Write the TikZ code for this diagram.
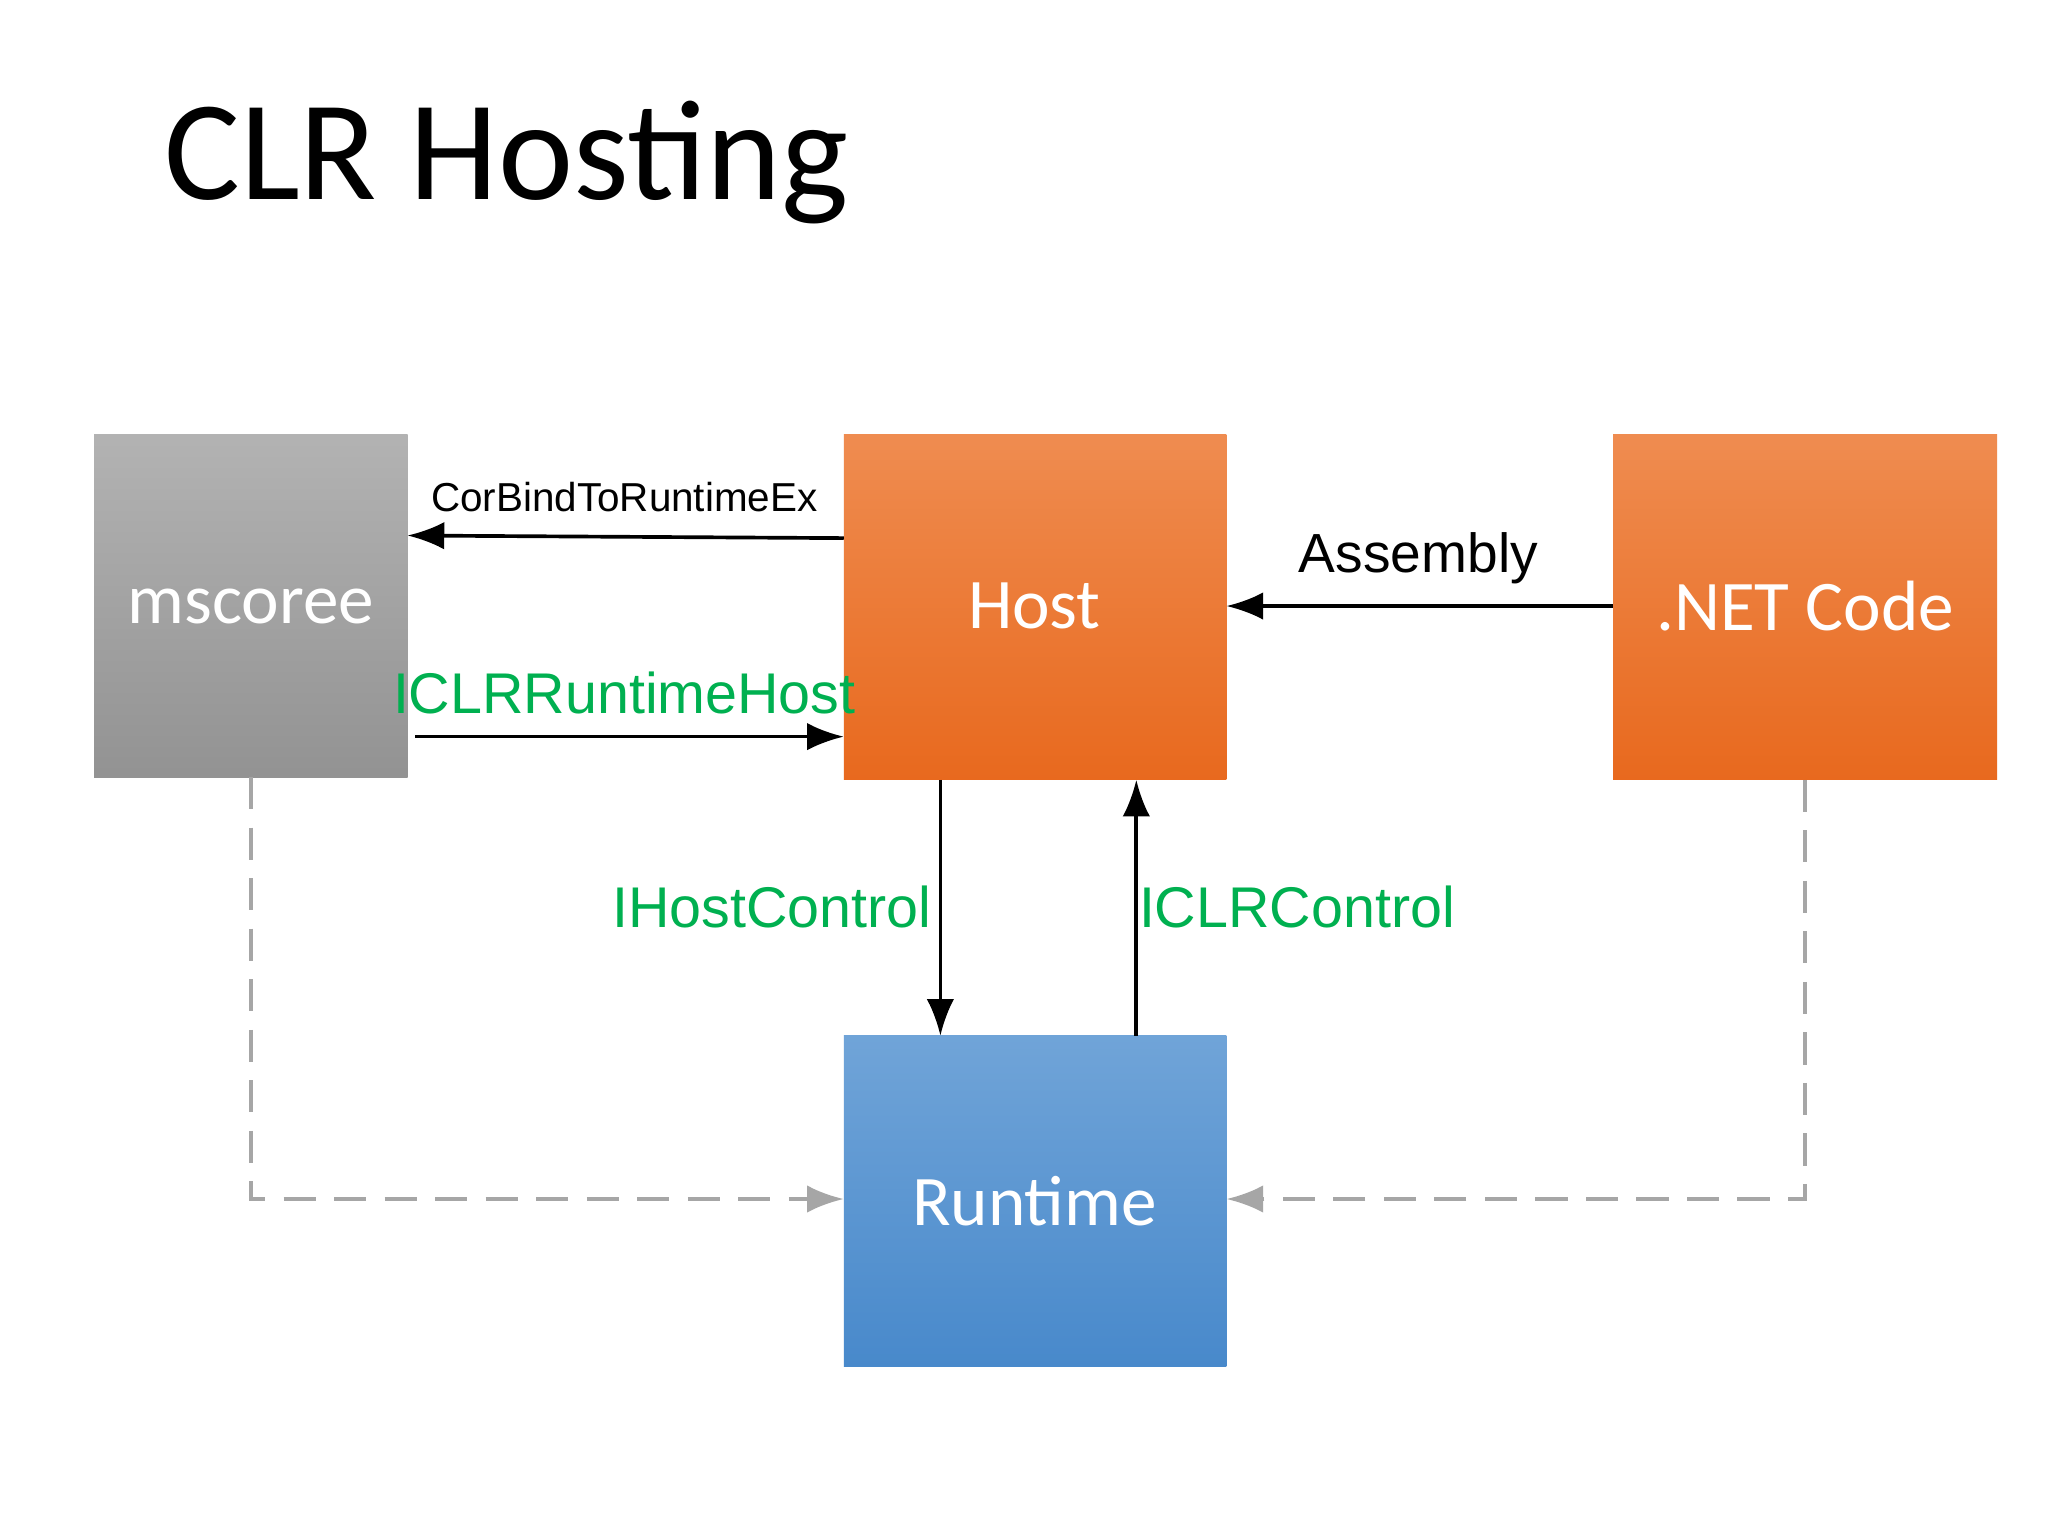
\documentclass[tikz,border=0pt]{standalone}
\usepackage{fontspec}
\setmainfont{Liberation Sans}
\newfontfamily\carl{Carlito}
\usetikzlibrary{arrows.meta}
\definecolor{grn}{HTML}{00B050}
\begin{document}
\begin{tikzpicture}[x=0.01cm,y=-0.01cm,
 box/.style={draw=none,inner sep=0,font=\carl\fontsize{15.5}{18}\selectfont,text=white},
 arr/.style={-{Latex[length=8pt,width=6pt]},line width=0.8pt},
 dsh/.style={-{Latex[length=8pt,width=6pt]},draw=gray!70,line width=0.9pt,dash pattern=on 7pt off 4pt},
 glab/.style={text=grn,font=\fontsize{12.5}{15}\selectfont}]
\fill[white] (0,0) rectangle (1568,1176);
\useasboundingbox (0,0) rectangle (1568,1176);
\node[anchor=base west,font=\carl\fontsize{31}{36}\selectfont,inner sep=0] (title) at (125,153) {CLR Hosting};
\shade[top color=gray!60,bottom color=gray!85] (72,333) rectangle (312,595);
\node[box] (ms) at (192,464) {mscoree};
\shade[top color={rgb,255:red,239;green,140;blue,80},bottom color={rgb,255:red,232;green,105;blue,30}] (646,333) rectangle (939,597);
\node[box] (hostt) at (792,464) {Host};
\shade[top color={rgb,255:red,239;green,140;blue,80},bottom color={rgb,255:red,232;green,105;blue,30}] (1235,333) rectangle (1529,597);
\node[box] (nett) at (1382,464) {.NET Code};
\shade[top color={rgb,255:red,112;green,164;blue,216},bottom color={rgb,255:red,72;green,137;blue,203}] (646,793) rectangle (939,1046);
\node[box] (rtt) at (792,920) {Runtime};
\coordinate (msR1) at (312,410); \coordinate (hL1) at (646,412);
\coordinate (msR2) at (318,564); \coordinate (hL2) at (646,564);
\coordinate (hR) at (939,464); \coordinate (nL) at (1235,464);
\coordinate (hB1) at (720,597); \coordinate (rT1) at (720,793);
\coordinate (hB2) at (870,597); \coordinate (rT2) at (870,793);
\coordinate (msB) at (192,595); \coordinate (rL) at (646,918);
\coordinate (nB) at (1382,597); \coordinate (rR) at (939,918);
\draw[arr] (hL1) -- (msR1);
\draw[arr] (msR2) -- (hL2);
\draw[arr] (nL) -- (hR);
\draw[arr] (hB1) -- (rT1);
\draw[arr] (rT2) -- (hB2);
\draw[dsh] (msB) |- (rL);
\draw[dsh] (nB) |- (rR);
\node[font=\fontsize{8.8}{10}\selectfont,anchor=base] (l1) at (478,392) {CorBindToRuntimeEx};
\node[glab,anchor=base] (l2) at (478,546) {ICLRRuntimeHost};
\node[font=\fontsize{12}{14}\selectfont,anchor=base] (l3) at (1086,438) {Assembly};
\node[glab,anchor=base] (l4) at (591,710) {IHostControl};
\node[glab,anchor=base] (l5) at (993,710) {ICLRControl};
\end{tikzpicture}
\end{document}
